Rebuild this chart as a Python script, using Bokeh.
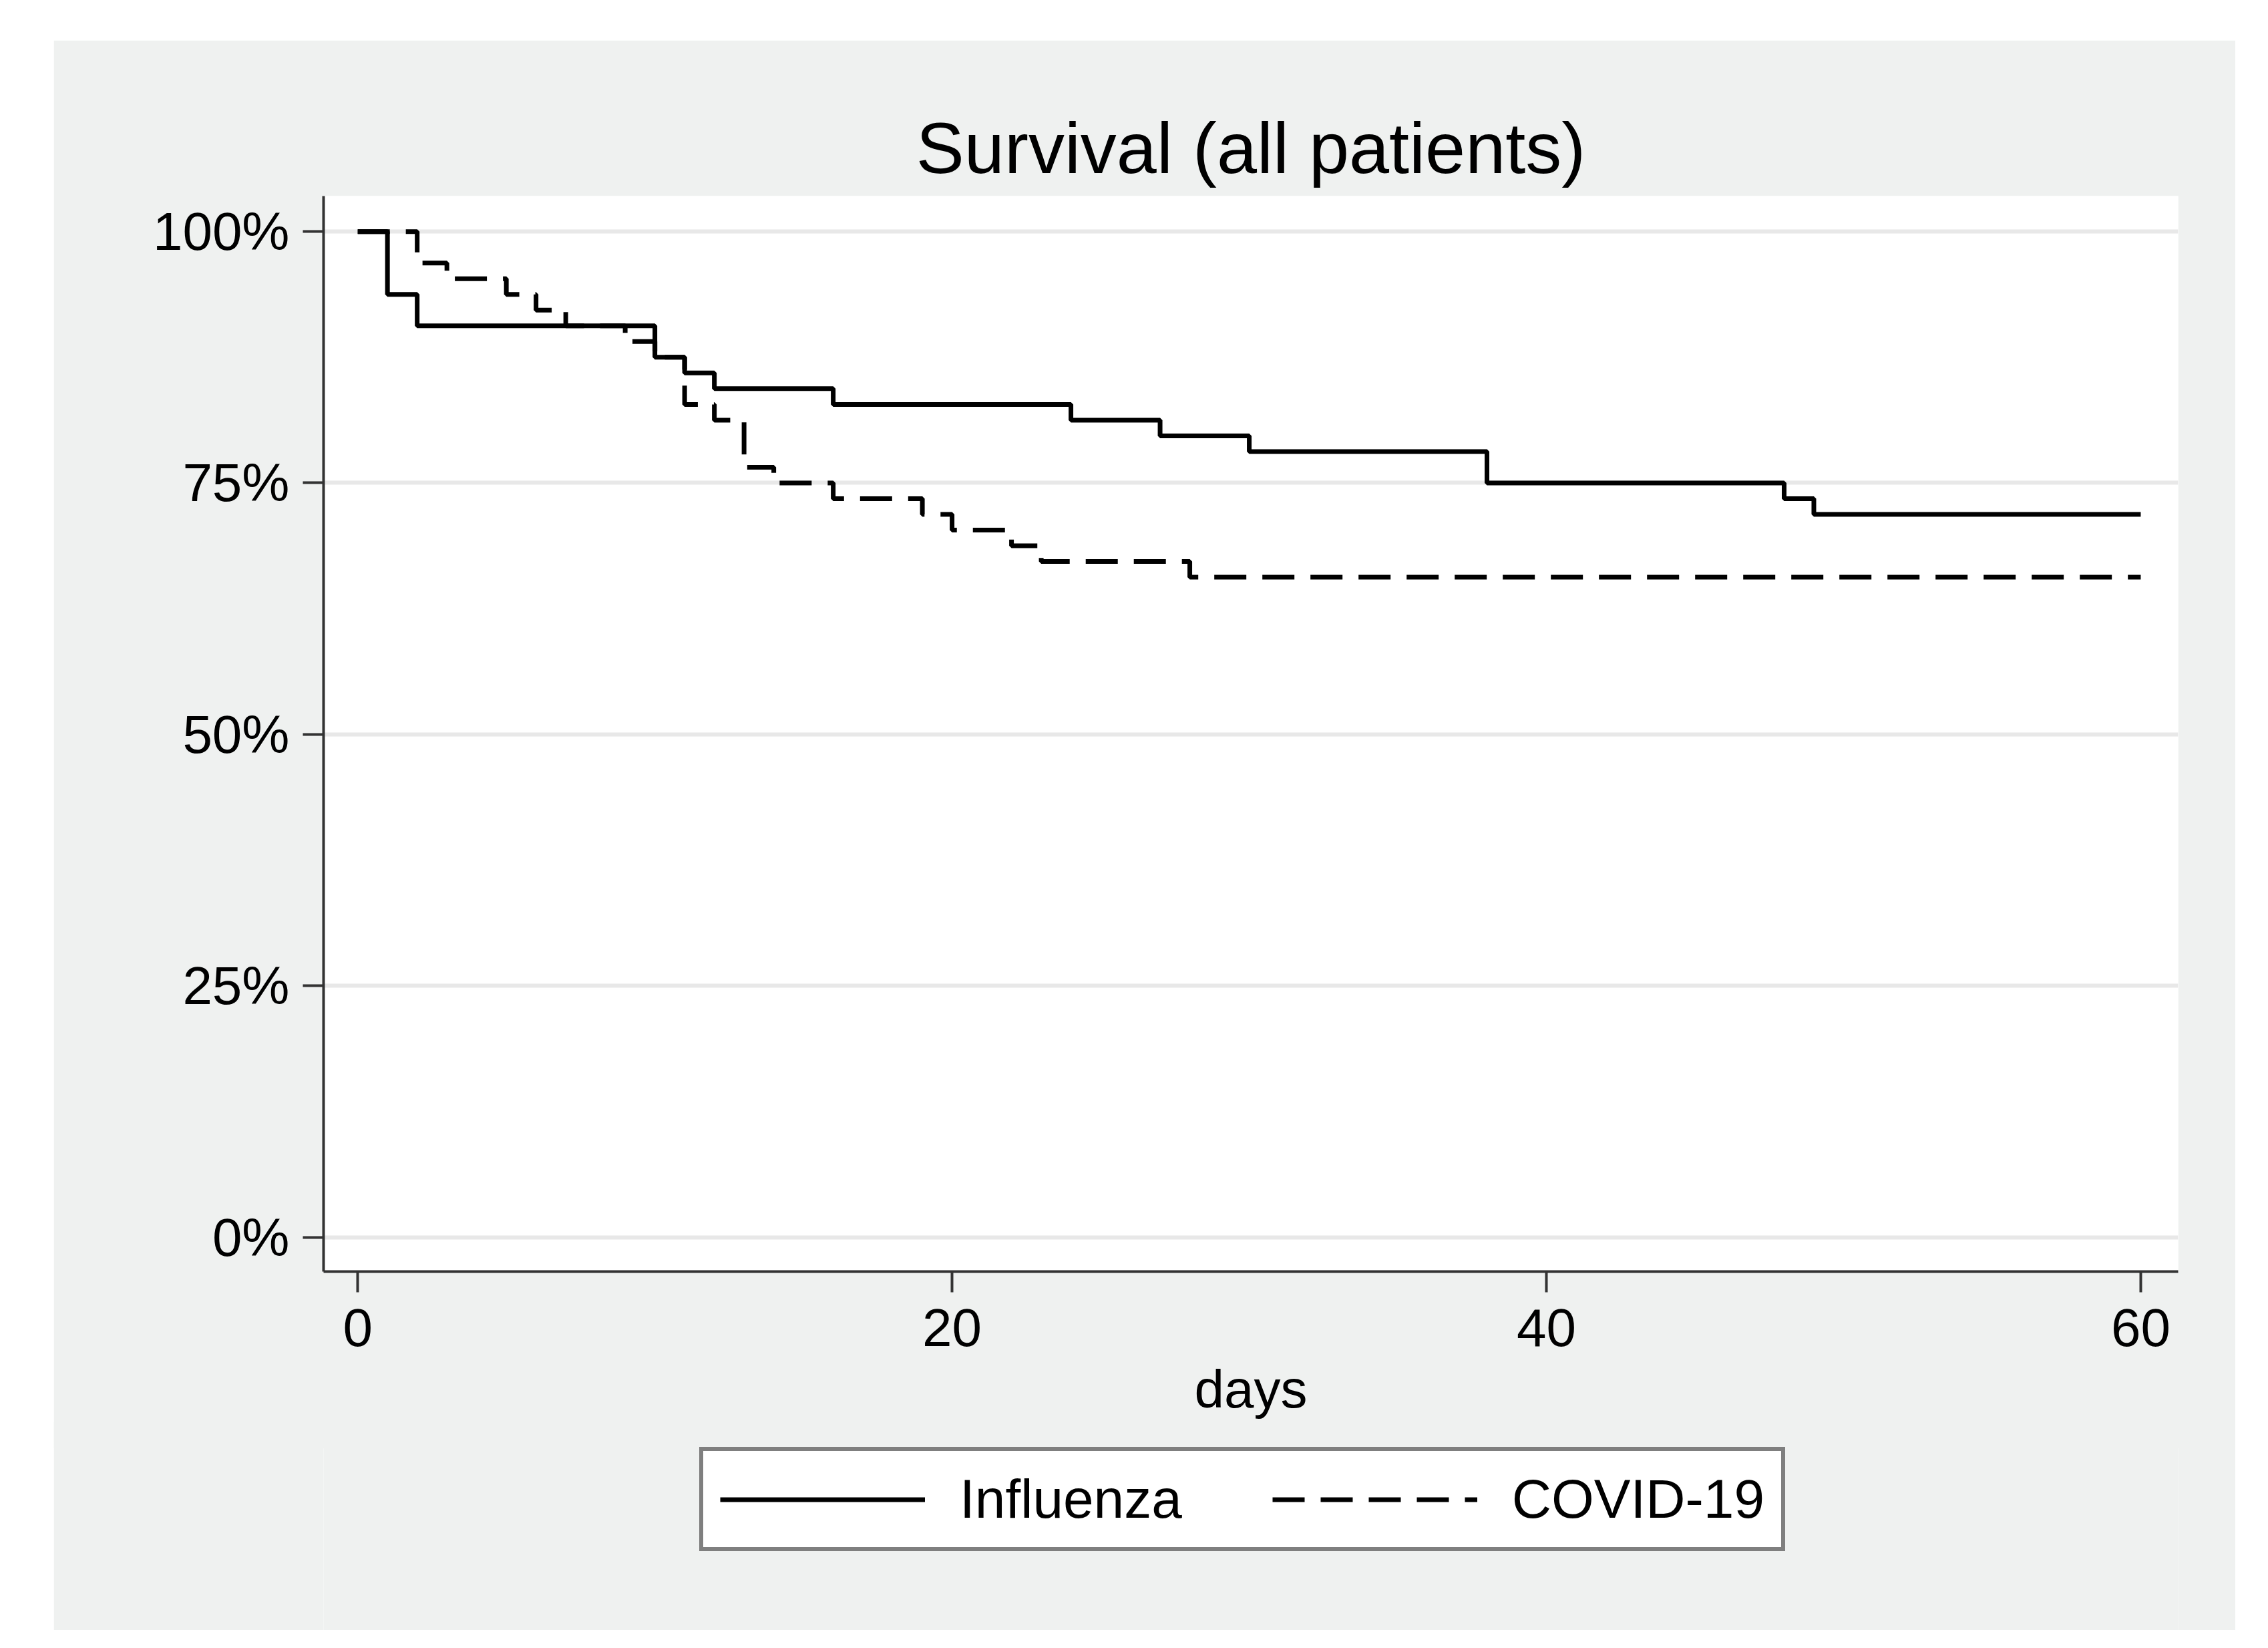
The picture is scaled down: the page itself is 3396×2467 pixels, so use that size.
from bokeh.plotting import figure
from bokeh.models import FixedTicker, Legend, LegendItem, Range1d, Spacer
from bokeh.layouts import column, row
from bokeh.embed import file_html
from bokeh.resources import INLINE

# ---- data (Kaplan-Meier steps) ----
flu_days = [0, 1, 2, 10, 11, 12, 16, 24, 27, 30, 38, 48, 49, 60]
flu_surv = [100, 93.75, 90.625, 87.5, 85.9375, 84.375, 82.8125, 81.25,
            79.6875, 78.125, 75.0, 73.4375, 71.875, 71.875]
covid_days = [0, 2, 3, 5, 6, 7, 9, 10, 11, 12, 13, 14, 16, 19, 20, 22, 23, 28, 60]
covid_surv = [100, 96.875, 95.3125, 93.75, 92.1875, 90.625, 89.0625, 87.5,
              82.8125, 81.25, 76.5625, 75.0, 73.4375, 71.875, 70.3125,
              68.75, 67.1875, 65.625, 65.625]
series_names = ["Influenza", "COVID-19"]
y_ticks = [0, 25, 50, 75, 100]
y_tick_labels = ["0%", "25%", "50%", "75%", "100%"]
x_ticks = [0, 20, 40, 60]
title_text = "Survival (all patients)"
x_label = "days"

GRAY = "#eff1f0"
FONT = "Liberation Sans"
AXIS = "#333333"
FLU_STYLE = dict(line_color="black", line_width=7)
COV_STYLE = dict(line_color="black", line_width=7, line_dash="48 24")

# ---------------- main plot ----------------
p = figure(frame_width=2777, frame_height=1610,
           min_border_left=404, min_border_right=86,
           min_border_top=233, min_border_bottom=265,
           x_range=Range1d(-1.15, 61.26), y_range=Range1d(-3.42, 103.53),
           output_backend="svg", toolbar_location=None)

p.background_fill_color = "white"
p.border_fill_color = GRAY
p.outline_line_color = None

p.title.text = title_text
p.title.align = "center"
p.title.text_font = FONT
p.title.text_font_size = "108px"
p.title.text_font_style = "normal"
p.title.text_color = "black"
p.title.standoff = 23

for ax in (p.xaxis[0], p.yaxis[0]):
    ax.axis_line_color = AXIS
    ax.axis_line_width = 4
    ax.major_tick_line_color = AXIS
    ax.major_tick_line_width = 4
    ax.major_tick_out = 31
    ax.major_tick_in = 0
    ax.minor_tick_line_color = None
    ax.major_label_text_font = FONT
    ax.major_label_text_font_size = "80px"
    ax.major_label_text_color = "black"

p.xaxis.ticker = FixedTicker(ticks=x_ticks)
p.xaxis.major_label_standoff = 25
p.xaxis.axis_label = x_label
p.xaxis.axis_label_text_font = FONT
p.xaxis.axis_label_text_font_size = "80px"
p.xaxis.axis_label_text_font_style = "normal"
p.xaxis.axis_label_text_color = "black"
p.xaxis.axis_label_standoff = 17

p.yaxis.ticker = FixedTicker(ticks=y_ticks)
p.yaxis.major_label_overrides = {t: l for t, l in zip(y_ticks, y_tick_labels)}
p.yaxis.major_label_standoff = 20

p.xgrid.visible = False
p.ygrid.grid_line_color = "#e8e8e8"
p.ygrid.grid_line_width = 6

p.step(flu_days, flu_surv, mode="after", **FLU_STYLE)
p.step(covid_days, covid_surv, mode="after", **COV_STYLE)

# ---------------- legend strip (same series, kept out of its view) ----------------
pl = figure(frame_width=2777, frame_height=312, title=None,
            min_border_left=404, min_border_right=86,
            min_border_top=0, min_border_bottom=0,
            x_range=Range1d(100, 101), y_range=Range1d(0, 1),
            x_axis_type=None, y_axis_type=None,
            output_backend="svg", toolbar_location=None)
pl.background_fill_color = GRAY
pl.border_fill_color = GRAY
pl.outline_line_color = None
pl.grid.visible = False
pl.margin = (-40, 0, 0, 0)

l_flu = pl.step(flu_days, flu_surv, mode="after", **FLU_STYLE)
l_cov = pl.step(covid_days, covid_surv, mode="after", **COV_STYLE)

legend = Legend(items=[LegendItem(label=series_names[0], renderers=[l_flu]),
                       LegendItem(label=series_names[1], renderers=[l_cov])],
                orientation="horizontal", location=(563, 118),
                glyph_width=307, glyph_height=81, label_standoff=52,
                spacing=135, padding=25, margin=0,
                border_line_color="black", border_line_width=6,
                background_fill_color="white", background_fill_alpha=1.0,
                label_text_font=FONT, label_text_font_size="82px",
                label_text_color="black")
pl.add_layout(legend)

layout = column(Spacer(height=60), row(Spacer(width=80), column(p, pl)))

with open("out.html", "w") as f:
    f.write(file_html(layout, INLINE))
